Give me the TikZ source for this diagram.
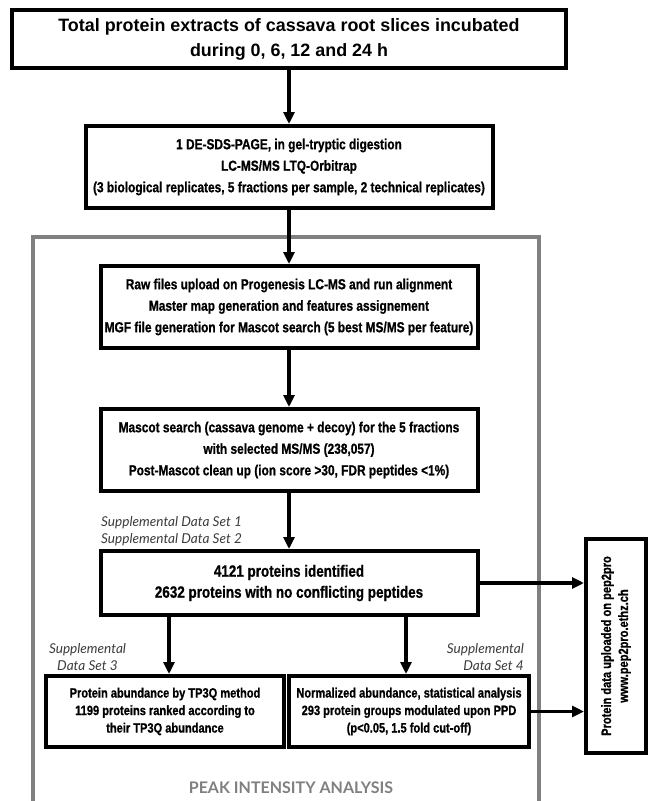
\documentclass[tikz,border=0pt]{standalone}
\usepackage{fontspec}
\usetikzlibrary{arrows.meta}
\newfontfamily\narrowfont[FakeStretch=0.82,FakeBold=0.8]{Liberation Sans}
\newfontfamily\widefont{Liberation Sans}
\newfontfamily\labelfont{Lato}
\definecolor{framegray}{RGB}{128,128,128}
\definecolor{labelgray}{RGB}{60,60,60}
\begin{document}
\begin{tikzpicture}[x=1pt,y=-1pt,
  box/.style={draw=black,line width=4pt,fill=white,align=center,inner sep=0pt,
    font=\narrowfont\bfseries\fontsize{14.5}{21.5}\selectfont},
  topstrut/.style={execute at begin node={\rule{0pt}{#1}}},
  arr/.style={draw=black,line width=3.5pt,-{Triangle[length=12pt,width=11pt]}},
  lab/.style={inner sep=0pt,text=labelgray,font=\labelfont\itshape\fontsize{13.6}{17}\selectfont},
  frame/.style={draw=framegray,line width=3.5pt}]
\useasboundingbox (0,0) rectangle (648,801);
\fill[white] (0,0) rectangle (648,801);

% gray frame (open at the bottom)
\draw[frame] (33,805) -- (33,237) -- (539,237) -- (539,805);

\node[box,topstrut=23pt,font=\widefont\bfseries\fontsize{17.9}{25}\selectfont,minimum width=554,minimum height=58] (top) at (289,39)
  {Total protein extracts of cassava root slices incubated\\during 0, 6, 12 and 24 h};
\node[box,topstrut=19pt,minimum width=407,minimum height=82] (b2) at (289,167)
  {1 DE-SDS-PAGE, in gel-tryptic digestion\\LC-MS/MS LTQ-Orbitrap\\(3 biological replicates, 5 fractions per sample, 2 technical replicates)};
\node[box,topstrut=19pt,minimum width=377,minimum height=82] (b3) at (289,307)
  {Raw files upload on Progenesis LC-MS and run alignment\\Master map generation and features assignement\\MGF file generation for Mascot search (5 best MS/MS per feature)};
\node[box,topstrut=19pt,minimum width=377,minimum height=82] (b4) at (289,450)
  {Mascot search (cassava genome + decoy) for the 5 fractions\\with selected MS/MS (238,057)\\Post-Mascot clean up (ion score >30, FDR peptides <1\%)};
\node[box,topstrut=18pt,minimum width=377,minimum height=64,font=\narrowfont\bfseries\fontsize{16.4}{21}\selectfont] (b5) at (289,583)
  {4121 proteins identified\\2632 proteins with no conflicting peptides};
\node[box,topstrut=15pt,minimum width=238,minimum height=71,font=\narrowfont\bfseries\fontsize{13.5}{17.5}\selectfont] (b6) at (165,711.5)
  {Protein abundance by TP3Q method\\1199 proteins ranked according to\\their TP3Q abundance};
\node[box,topstrut=15pt,minimum width=240,minimum height=71,font=\narrowfont\bfseries\fontsize{13.5}{17.5}\selectfont] (b7) at (409,711.5)
  {Normalized abundance, statistical analysis\\293 protein groups modulated upon PPD\\(p<0.05, 1.5 fold cut-off)};
\node[box,rotate=90,minimum width=214,minimum height=60,font=\narrowfont\bfseries\fontsize{13.5}{17}\selectfont] (pep) at (616,646)
  {Protein data uploaded on pep2pro\\www.pep2pro.ethz.ch};

\node[lab,anchor=west,align=left] (s12) at (101,531) {Supplemental Data Set 1\\Supplemental Data Set 2};
\node[lab,align=center] (s3) at (87.5,657) {Supplemental\\Data Set 3};
\node[lab,anchor=east,align=right] (s4) at (524,657) {Supplemental\\Data Set 4};
\node[inner sep=0pt,text=framegray,font=\labelfont\bfseries\fontsize{16}{16}\selectfont] (peak) at (291,788) {PEAK INTENSITY ANALYSIS};

\coordinate (c1) at (169,0);
\coordinate (c2) at (406,0);

\draw[arr] (top.south) -- (b2.north);
\draw[arr] (b2.south) -- (b3.north);
\draw[arr] (b3.south) -- (b4.north);
\draw[arr] (b4.south) -- (b5.north);
\draw[arr] (b5.south -| c1) -- (b6.north -| c1);
\draw[arr] (b5.south -| c2) -- (b7.north -| c2);
\draw[arr] (b5.east) -- (b5.east -| pep.north);
\draw[arr] (b7.east) -- (b7.east -| pep.north);
\end{tikzpicture}
\end{document}
